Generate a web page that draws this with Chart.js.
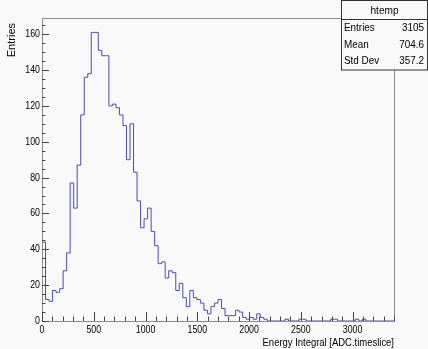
<!DOCTYPE html>
<html>
<head>
<meta charset="utf-8">
<script src="https://cdn.jsdelivr.net/npm/chart.js@4"></script>
<style>
  html, body { margin: 0; padding: 0; background: #f9f9f9; }
  canvas { display: block; }
</style>
</head>
<body>
<canvas id="c" width="428" height="349"></canvas>
<script>
// Histogram "htemp": 100 bins of 34 ADC.timeslice from 0 to 3400
const binWidth = 34;
const counts = [
  44, 12, 11, 17, 16, 18, 28, 38, 77, 63,
  87, 115, 136, 138, 161, 161, 151, 148, 148, 120,
  121, 119, 115, 109, 90, 110, 83, 67, 52, 57,
  63, 50, 42, 32, 33, 24, 28, 27, 17, 21,
  13, 8, 17, 13, 12, 10, 6, 4, 8, 10,
  12, 7, 3, 3, 3, 6, 5, 2, 1, 2,
  1, 4, 2, 1, 0, 0, 0, 0, 0, 1,
  0, 0, 0, 1, 1, 0, 0, 0, 0, 0,
  0, 0, 1, 1, 0, 0, 0, 0, 0, 1,
  0, 1, 0, 0, 0, 0, 0, 0, 0, 0
];
const xTickLabels = [0, 500, 1000, 1500, 2000, 2500, 3000];
const yTickLabels = [0, 20, 40, 60, 80, 100, 120, 140, 160];
const xTitle = 'Energy Integral [ADC.timeslice]';
const yTitle = 'Entries';
const statsTitle = 'htemp';
const statsNames = ['Entries', 'Mean', 'Std Dev'];
const statsValues = ['3105', '704.6', '357.2'];

const xMax = counts.length * binWidth;
const yMax = 1.05 * Math.max(...counts);
const xMinorStep = 100;
const yMinorStep = 5;

const FONT = "'Liberation Sans', Arial, Helvetica, sans-serif";
const BG = '#f9f9f9';
const LINE = 'rgb(75,75,185)';

// Step outline: each point is a bin's lower edge, held flat until the next edge
const outline = [{ x: 0, y: 0 }];
counts.forEach((n, i) => outline.push({ x: i * binWidth, y: n }));
outline.push({ x: xMax, y: counts[counts.length - 1] });
outline.push({ x: xMax, y: 0 });

// Text in a slightly condensed Helvetica-like face
function condensedText(ctx, text, x, y, align, squeeze) {
  ctx.save();
  ctx.translate(x, y);
  ctx.scale(squeeze, 1);
  ctx.textAlign = align;
  ctx.fillText(text, 0, 0);
  ctx.restore();
}

const frameAndStats = {
  id: 'frameAndStats',
  beforeDraw(chart) {
    const ctx = chart.ctx;
    ctx.save();
    ctx.fillStyle = BG;
    ctx.fillRect(0, 0, chart.width, chart.height);
    ctx.restore();
  },
  afterDatasetsDraw(chart) {
    const { ctx, chartArea: a, scales: { x, y } } = chart;
    ctx.save();
    // frame
    ctx.strokeStyle = '#8c8c8c';
    ctx.lineWidth = 1;
    ctx.strokeRect(Math.round(a.left) + 0.5, Math.round(a.top) + 0.5,
                   Math.round(a.right - a.left), Math.round(a.bottom - a.top));
    // ticks drawn inward from the axes
    ctx.strokeStyle = '#444';
    ctx.beginPath();
    for (let v = 0; v <= xMax; v += xMinorStep) {
      const px = Math.round(x.getPixelForValue(v)) + 0.5;
      const len = xTickLabels.includes(v) ? 9 : 4.5;
      ctx.moveTo(px, a.bottom);
      ctx.lineTo(px, a.bottom - len);
    }
    for (let v = 0; v <= yMax; v += yMinorStep) {
      const py = Math.round(y.getPixelForValue(v)) + 0.5;
      const len = yTickLabels.includes(v) ? 7 : 3.5;
      ctx.moveTo(a.left, py);
      ctx.lineTo(a.left + len, py);
    }
    ctx.stroke();

    // tick labels
    ctx.fillStyle = '#000';
    ctx.font = '11px ' + FONT;
    ctx.textBaseline = 'middle';
    xTickLabels.forEach(v => {
      condensedText(ctx, String(v), x.getPixelForValue(v), 329.5, 'center', 0.8);
    });
    yTickLabels.forEach(v => {
      condensedText(ctx, String(v), 40, y.getPixelForValue(v), 'right', 0.8);
    });

    // axis titles
    condensedText(ctx, xTitle, a.right, 342.5, 'right', 0.86);
    ctx.save();
    ctx.translate(12, 23);
    ctx.rotate(-Math.PI / 2);
    condensedText(ctx, yTitle, 0, 0, 'right', 1);
    ctx.restore();
    ctx.restore();
  },
  afterDraw(chart) {
    const ctx = chart.ctx;
    ctx.save();
    const bx = 341.5, by = 0.5, bw = 86, bh = 69.5;
    ctx.fillStyle = BG;
    ctx.fillRect(bx, by, bw, bh);
    ctx.strokeStyle = '#333';
    ctx.lineWidth = 1;
    ctx.strokeRect(bx, by, bw, bh);
    ctx.beginPath();
    ctx.moveTo(bx, 19.5);
    ctx.lineTo(bx + bw, 19.5);
    ctx.stroke();
    ctx.fillStyle = '#000';
    ctx.font = '11px ' + FONT;
    ctx.textBaseline = 'middle';
    condensedText(ctx, statsTitle, bx + bw / 2, 11, 'center', 0.92);
    const rowY = [28, 44.5, 61];
    statsNames.forEach((name, i) => {
      condensedText(ctx, name, 344, rowY[i], 'left', 0.9);
      condensedText(ctx, statsValues[i], 424, rowY[i], 'right', 0.9);
    });
    ctx.restore();
  }
};

new Chart(document.getElementById('c'), {
  type: 'line',
  data: {
    datasets: [{
      data: outline,
      stepped: 'before',
      borderColor: LINE,
      borderWidth: 1,
      pointRadius: 0,
      fill: false
    }]
  },
  options: {
    responsive: false,
    animation: false,
    events: [],
    layout: { padding: { top: 18, right: 34, left: 0, bottom: 0 } },
    plugins: { legend: { display: false }, tooltip: { enabled: false } },
    scales: {
      x: {
        type: 'linear',
        min: 0,
        max: xMax,
        grid: { display: false, drawTicks: false },
        border: { display: false },
        afterBuildTicks: s => { s.ticks = xTickLabels.map(v => ({ value: v })); },
        afterFit: s => { s.height = 28; },
        ticks: { display: false }
      },
      y: {
        type: 'linear',
        min: 0,
        max: yMax,
        grid: { display: false, drawTicks: false },
        border: { display: false },
        afterBuildTicks: s => { s.ticks = yTickLabels.map(v => ({ value: v })); },
        afterFit: s => { s.width = 42; },
        ticks: { display: false }
      }
    }
  },
  plugins: [frameAndStats]
});
</script>
</body>
</html>
